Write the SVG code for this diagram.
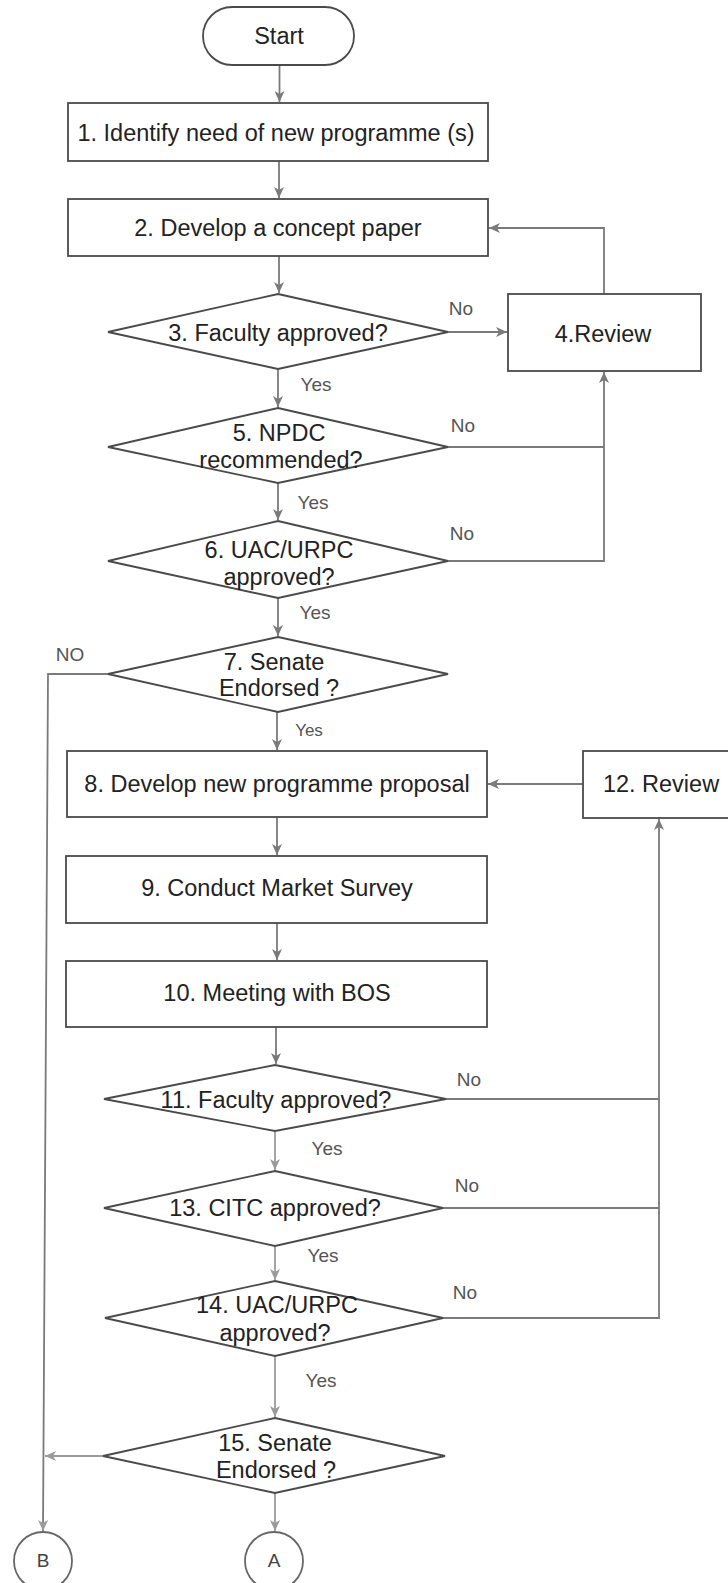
<svg xmlns="http://www.w3.org/2000/svg" width="728" height="1583" viewBox="0 0 728 1583">
<style>
.shape{fill:#fff;stroke:#4a4a4a;stroke-width:1.8}
.conn{fill:none;stroke:#7a7a7a;stroke-width:1.8}
.conn2{fill:none;stroke:#9a9a9a;stroke-width:1.8}
.t{font-family:"Liberation Sans",Arial,sans-serif;font-size:23.5px;fill:#222;text-anchor:middle}
.lbl{font-family:"Liberation Sans",Arial,sans-serif;font-size:19px;fill:#555;text-anchor:middle}
</style>
<defs>
<marker id="ah" markerUnits="userSpaceOnUse" markerWidth="12" markerHeight="10" refX="11" refY="5" orient="auto">
<path d="M0,0 L11,5 L0,10 L3,5 z" fill="#7a7a7a"/>
</marker>
<marker id="ah2" markerUnits="userSpaceOnUse" markerWidth="12" markerHeight="10" refX="11" refY="5" orient="auto">
<path d="M0,0 L11,5 L0,10 L3,5 z" fill="#9a9a9a"/>
</marker>
</defs>
<rect width="728" height="1583" fill="#fff"/>
<g id="connectors">
<line class="conn" x1="279.5" y1="65" x2="279.5" y2="102" marker-end="url(#ah)"/>
<line class="conn" x1="279" y1="161" x2="279" y2="198" marker-end="url(#ah)"/>
<line class="conn" x1="279" y1="256" x2="279" y2="293" marker-end="url(#ah)"/>
<line class="conn" x1="448" y1="332" x2="507" y2="332" marker-end="url(#ah)"/>
<polyline class="conn" points="604,294 604,228 489,228" marker-end="url(#ah)"/>
<line class="conn" x1="278" y1="369" x2="278" y2="407" marker-end="url(#ah)"/>
<polyline class="conn" points="448,447 604,447"/>
<polyline class="conn" points="448,561 604,561 604,372" marker-end="url(#ah)"/>
<line class="conn" x1="278" y1="483" x2="278" y2="520" marker-end="url(#ah)"/>
<line class="conn" x1="278" y1="598" x2="278" y2="636" marker-end="url(#ah)"/>
<polyline class="conn" points="108,674 48,674 43,1531" marker-end="url(#ah2)"/>
<line class="conn" x1="277" y1="712" x2="277" y2="750" marker-end="url(#ah)"/>
<line class="conn" x1="583" y1="784" x2="488" y2="784" marker-end="url(#ah)"/>
<line class="conn" x1="277" y1="817" x2="277" y2="855" marker-end="url(#ah)"/>
<line class="conn" x1="277" y1="923" x2="277" y2="960" marker-end="url(#ah)"/>
<line class="conn" x1="276" y1="1027" x2="276" y2="1064" marker-end="url(#ah)"/>
<line class="conn" x1="446" y1="1099" x2="659" y2="1099"/>
<line class="conn" x1="443" y1="1208" x2="659" y2="1208"/>
<polyline class="conn" points="443,1318 659,1318 659,819" marker-end="url(#ah)"/>
<line class="conn2" x1="275" y1="1131" x2="275" y2="1170" marker-end="url(#ah2)"/>
<line class="conn2" x1="275" y1="1246" x2="275" y2="1280" marker-end="url(#ah2)"/>
<line class="conn2" x1="275" y1="1356" x2="275" y2="1417" marker-end="url(#ah2)"/>
<line class="conn2" x1="103" y1="1456" x2="45" y2="1456" marker-end="url(#ah2)"/>
<line class="conn2" x1="275" y1="1493" x2="275" y2="1531" marker-end="url(#ah2)"/>
</g>
<g id="labels">
<text class="lbl" x="461" y="315">No</text>
<text class="lbl" x="316" y="391">Yes</text>
<text class="lbl" x="463" y="432">No</text>
<text class="lbl" x="313" y="509">Yes</text>
<text class="lbl" x="462" y="540">No</text>
<text class="lbl" x="315" y="619">Yes</text>
<text class="lbl" x="70" y="661">NO</text>
<text class="lbl" x="309" y="736" style="font-size:17px">Yes</text>
<text class="lbl" x="469" y="1086">No</text>
<text class="lbl" x="327" y="1155">Yes</text>
<text class="lbl" x="467" y="1192">No</text>
<text class="lbl" x="323" y="1262">Yes</text>
<text class="lbl" x="465" y="1299">No</text>
<text class="lbl" x="321" y="1387">Yes</text>
</g>
<g id="start"><rect class="shape" x="203" y="7" width="151" height="58" rx="29"/><text class="t" x="279" y="44">Start</text></g>
<g id="n1"><rect class="shape" x="68" y="103" width="420" height="58"/><text class="t" x="276" y="141">1. Identify need of new programme (s)</text></g>
<g id="n2"><rect class="shape" x="68" y="199" width="420" height="57"/><text class="t" x="278" y="236">2. Develop a concept paper</text></g>
<g id="n3"><polygon class="shape" points="278,294 448,332 278,369 108,332"/><text class="t" x="278" y="341">3. Faculty approved?</text></g>
<g id="n4"><rect class="shape" x="508" y="294" width="193" height="77"/><text class="t" x="603" y="342">4.Review</text></g>
<g id="n5"><polygon class="shape" points="278,408 448,447 278,483 108,447"/><text class="t" x="279" y="441">5. NPDC</text><text class="t" x="281" y="468">recommended?</text></g>
<g id="n6"><polygon class="shape" points="278,521 448,561 278,598 108,561"/><text class="t" x="279" y="558">6. UAC/URPC</text><text class="t" x="279" y="585">approved?</text></g>
<g id="n7"><polygon class="shape" points="278,637 448,674 278,712 108,674"/><text class="t" x="274" y="670">7. Senate</text><text class="t" x="279" y="696">Endorsed ?</text></g>
<g id="n8"><rect class="shape" x="67" y="751" width="420" height="66"/><text class="t" x="277" y="792">8. Develop new programme proposal</text></g>
<g id="n12"><rect class="shape" x="583" y="751" width="150" height="67"/><text class="t" x="661" y="792">12. Review</text></g>
<g id="n9"><rect class="shape" x="66" y="856" width="421" height="67"/><text class="t" x="277" y="896">9. Conduct Market Survey</text></g>
<g id="n10"><rect class="shape" x="66" y="961" width="421" height="66"/><text class="t" x="277" y="1001">10. Meeting with BOS</text></g>
<g id="n11"><polygon class="shape" points="275,1065 446,1099 275,1131 104,1099"/><text class="t" x="276" y="1108">11. Faculty approved?</text></g>
<g id="n13"><polygon class="shape" points="275,1171 443,1208 275,1246 104,1208"/><text class="t" x="275" y="1216">13. CITC approved?</text></g>
<g id="n14"><polygon class="shape" points="275,1281 443,1318 275,1356 105,1318"/><text class="t" x="277" y="1313">14. UAC/URPC</text><text class="t" x="275" y="1341">approved?</text></g>
<g id="n15"><polygon class="shape" points="275,1418 445,1456 275,1493 103,1456"/><text class="t" x="275" y="1451">15. Senate</text><text class="t" x="276" y="1478">Endorsed ?</text></g>
<g id="nA"><circle class="shape" cx="274" cy="1561" r="29" style="stroke:#666"/><text class="lbl" x="274" y="1567" style="fill:#444">A</text></g>
<g id="nB"><circle class="shape" cx="43" cy="1561" r="29" style="stroke:#666"/><text class="lbl" x="43" y="1567" style="fill:#444">B</text></g>
</svg>
